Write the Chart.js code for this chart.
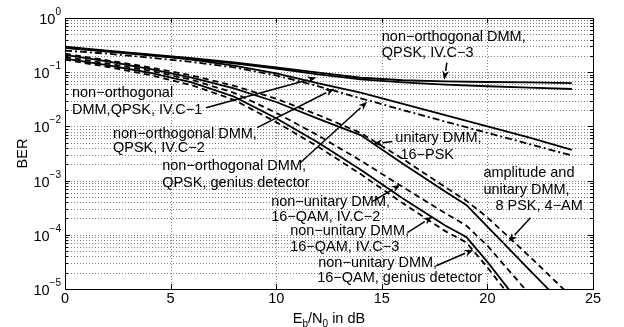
<!DOCTYPE html>
<html>
<head>
<meta charset="utf-8">
<script src="https://cdn.jsdelivr.net/npm/chart.js@4.4.1/dist/chart.umd.min.js"></script>
<style>
html,body{margin:0;padding:0;background:#fff;}
#wrap{width:624px;height:327px;position:relative;}
</style>
</head>
<body>
<div id="wrap"><canvas id="c" width="624" height="327"></canvas></div>
<script>
// ---- data ----
const snrA = [0,2,4,6,8,10,12,14,16,18,20,22,24];
const snrB = [0,2,4,6,8,10,12,14,16,18,19,20,22,24];

const berQpskC3     = [0.295,0.25,0.214,0.182,0.151,0.123,0.098,0.079,0.071,0.068,0.066,0.065,0.063];
const berQpskC1     = [0.28,0.24,0.204,0.174,0.145,0.117,0.091,0.074,0.065,0.059,0.055,0.052,0.049];
const berQpskC2     = [0.28,0.245,0.209,0.17,0.132,0.095,0.062,0.042,0.026,0.0162,0.01,0.0062,0.0037];
const berQpskGenius = [0.25,0.22,0.186,0.155,0.123,0.087,0.055,0.033,0.02,0.0123,0.0076,0.0047,0.0029];

const berPsk16      = [0.209,0.158,0.115,0.0794,0.0501,0.0282,0.0138,0.00692,0.00204,6.3e-4,3.55e-4,1.41e-4,2.24e-5,3.55e-6];
const berApsk       = [0.219,0.166,0.123,0.0871,0.0562,0.0324,0.0162,0.00759,0.00251,7.59e-4,4.27e-4,2.09e-4,3.98e-5,7.08e-6];
const berQamC2      = [0.191,0.145,0.107,0.0724,0.0417,0.0178,0.00676,0.00234,7.59e-4,2.51e-4,1.48e-4,6.31e-5,7.94e-6,1e-6];
const berQamC3      = [0.178,0.135,0.0977,0.0646,0.0355,0.0141,0.00501,0.00158,4.68e-4,1.48e-4,9.12e-5,3.16e-5,3.16e-6,3.16e-7];
const berQamGenius  = [0.17,0.126,0.0891,0.0575,0.0309,0.012,0.00417,0.00132,3.8e-4,1.17e-4,7.24e-5,2.51e-5,2.51e-6,2.51e-7];

const xTicks = [0,5,10,15,20,25];
const yExponents = [0,-1,-2,-3,-4,-5];

// annotations: text lines and arrows given in data coordinates
const annotations = [
  {lines:[["non\u2212orthogonal DMM,",15.0,-0.345],["QPSK, IV.C\u22123",15.0,-0.65]], arrow:[[18.08,-0.825],[17.96,-1.138]]},
  {lines:[["non\u2212orthogonal",0.33,-1.378],["DMM,QPSK, IV.C\u22121",0.33,-1.692]], arrow:[[6.68,-1.656],[11.9,-1.10]]},
  {lines:[["non\u2212orthogonal DMM,",2.27,-2.135],["QPSK, IV.C\u22122",2.27,-2.393]], arrow:[[9.1,-2.024],[12.75,-1.304]]},
  {lines:[["non\u2212orthogonal DMM,",4.6,-2.725],["QPSK, genius detector",4.6,-3.039]], arrow:[[11.14,-2.67],[14.31,-1.544]]},
  {lines:[["unitary DMM,",15.64,-2.208],["16\u2212PSK",15.88,-2.522]], arrow:[[15.5,-2.28],[14.6,-2.32]]},
  {lines:[["non\u2212unitary DMM,",9.76,-3.389],["16\u2212QAM, IV.C\u22122",9.76,-3.666]], arrow:[[14.55,-3.389],[15.88,-3.076]]},
  {lines:[["non\u2212unitary DMM,",10.66,-3.924],["16\u2212QAM, IV.C\u22123",10.66,-4.22]], arrow:[[16.21,-3.96],[17.39,-3.666]]},
  {lines:[["non\u2212unitary DMM,",11.99,-4.515],["16\u2212QAM, genius detector",11.94,-4.79]], arrow:[[17.58,-4.57],[19.34,-4.275]]},
  {lines:[["amplitude and",19.81,-2.854],["unitary DMM,",19.81,-3.168],["8 PSK, 4\u2212AM",20.38,-3.463]], arrow:[[22.04,-3.685],[21.0,-4.128]]}
];

const FONT = '"Liberation Sans", Arial, Helvetica, sans-serif';
const DASH = [6,4];
const DASHDOT = [7,3,2,3];

function series(xs, ys, dash){
  return {
    data: xs.map((x,i)=>({x:x, y:ys[i]})),
    borderColor:'#000', backgroundColor:'#000', borderWidth:1.8,
    borderDash: dash || [], pointRadius:0, tension:0, fill:false
  };
}

const datasets = [
  series(snrA, berQpskC3),
  series(snrA, berQpskC1),
  series(snrA, berQpskC2),
  series(snrA, berQpskGenius, DASHDOT),
  series(snrB, berPsk16),
  series(snrB, berApsk, DASH),
  series(snrB, berQamC2, DASH),
  series(snrB, berQamC3),
  series(snrB, berQamGenius, DASH)
];

const matlabAxes = {
  id:'matlabAxes',
  beforeDatasetsDraw(chart){
    const {ctx, chartArea:a, scales:{x, y}} = chart;
    ctx.save();
    ctx.strokeStyle = 'rgba(0,0,0,0.5)';
    ctx.lineWidth = 1;
    ctx.setLineDash([1,2]);
    // vertical grid
    xTicks.forEach(t=>{
      if (t<=0 || t>=25) return;
      const px = Math.round(x.getPixelForValue(t))+0.5;
      ctx.beginPath(); ctx.moveTo(px,a.top); ctx.lineTo(px,a.bottom); ctx.stroke();
    });
    // horizontal grid (major + minor)
    for (let e=-5; e<0; e++){
      for (let k=1; k<=9; k++){
        const v = k*Math.pow(10,e);
        if (e===-5 && k===1) continue;
        const py = Math.round(y.getPixelForValue(v))+0.5;
        ctx.beginPath(); ctx.moveTo(a.left,py); ctx.lineTo(a.right,py); ctx.stroke();
      }
    }
    ctx.restore();
  },
  afterDatasetsDraw(chart){
    const {ctx, chartArea:a, scales:{x, y}} = chart;
    ctx.save();
    ctx.setLineDash([]);
    ctx.strokeStyle = '#000';
    ctx.lineWidth = 1;
    // box
    ctx.strokeRect(Math.round(a.left)+0.5, Math.round(a.top)+0.5, Math.round(a.right-a.left), Math.round(a.bottom-a.top));
    // x ticks
    xTicks.forEach(t=>{
      const px = Math.round(x.getPixelForValue(t))+0.5;
      ctx.beginPath();
      ctx.moveTo(px,a.bottom); ctx.lineTo(px,a.bottom-5);
      ctx.moveTo(px,a.top); ctx.lineTo(px,a.top+5);
      ctx.stroke();
    });
    // y ticks
    for (let e=-5; e<=0; e++){
      for (let k=1; k<=9; k++){
        const v = k*Math.pow(10,e);
        if (v>1.0001) continue;
        const py = Math.round(y.getPixelForValue(v))+0.5;
        const len = k===1 ? 5 : 3;
        ctx.beginPath();
        ctx.moveTo(a.left,py); ctx.lineTo(a.left+len,py);
        ctx.moveTo(a.right,py); ctx.lineTo(a.right-len,py);
        ctx.stroke();
      }
    }
    // tick labels
    ctx.fillStyle = '#000';
    ctx.textAlign = 'center';
    ctx.textBaseline = 'middle';
    ctx.font = '14.5px ' + FONT;
    xTicks.forEach(t=>{
      ctx.fillText(String(t), x.getPixelForValue(t), a.bottom + 10);
    });
    yExponents.forEach(e=>{
      const py = y.getPixelForValue(Math.pow(10,e));
      const expStr = e===0 ? '0' : '\u2212' + String(-e);
      ctx.font = '10px ' + FONT;
      const ew = ctx.measureText(expStr).width;
      const right = a.left - 4;
      ctx.textAlign = 'left';
      ctx.textBaseline = 'alphabetic';
      ctx.fillText(expStr, right - ew, py - 3);
      ctx.font = '14.5px ' + FONT;
      ctx.textAlign = 'right';
      ctx.textBaseline = 'middle';
      ctx.fillText('10', right - ew, py + 2);
    });
    // x title with subscripts
    const parts = [['E',14.5,0],['b',10,4],['/N',14.5,0],['0',10,4],[' in dB',14.5,0]];
    let total = 0;
    parts.forEach(p=>{ ctx.font = p[1]+'px '+FONT; total += ctx.measureText(p[0]).width; });
    let cx = (a.left + a.right)/2 - total/2;
    const base = a.bottom + 34;
    ctx.textAlign = 'left';
    ctx.textBaseline = 'alphabetic';
    parts.forEach(p=>{
      ctx.font = p[1]+'px '+FONT;
      ctx.fillText(p[0], cx, base + p[2]);
      cx += ctx.measureText(p[0]).width;
    });
    // y title
    ctx.save();
    ctx.translate(23, (a.top + a.bottom)/2);
    ctx.rotate(-Math.PI/2);
    ctx.textAlign = 'center';
    ctx.textBaseline = 'middle';
    ctx.font = '14.5px ' + FONT;
    ctx.fillText('BER', 0, 0);
    ctx.restore();

    // annotations
    ctx.font = '14.5px ' + FONT;
    ctx.textAlign = 'left';
    ctx.textBaseline = 'middle';
    annotations.forEach(an=>{
      an.lines.forEach(l=>{
        ctx.fillText(l[0], x.getPixelForValue(l[1]), y.getPixelForValue(Math.pow(10,l[2])));
      });
      const x0 = x.getPixelForValue(an.arrow[0][0]), y0 = y.getPixelForValue(Math.pow(10,an.arrow[0][1]));
      const x1 = x.getPixelForValue(an.arrow[1][0]), y1 = y.getPixelForValue(Math.pow(10,an.arrow[1][1]));
      const ang = Math.atan2(y1-y0, x1-x0);
      const hl = 9, hw = 3.5;
      const bx = x1 - hl*Math.cos(ang), by = y1 - hl*Math.sin(ang);
      ctx.lineWidth = 1.5;
      ctx.beginPath(); ctx.moveTo(x0,y0); ctx.lineTo(bx,by); ctx.stroke();
      ctx.beginPath();
      ctx.moveTo(x1,y1);
      ctx.lineTo(bx + hw*Math.sin(ang), by - hw*Math.cos(ang));
      ctx.lineTo(x1 - 0.7*hl*Math.cos(ang), y1 - 0.7*hl*Math.sin(ang));
      ctx.lineTo(bx - hw*Math.sin(ang), by + hw*Math.cos(ang));
      ctx.closePath();
      ctx.fill();
    });
    ctx.restore();
  }
};

new Chart(document.getElementById('c'), {
  type:'line',
  data:{datasets},
  options:{
    responsive:false,
    animation:false,
    devicePixelRatio:1,
    layout:{padding:{left:65,right:31,top:18,bottom:38}},
    plugins:{legend:{display:false}, tooltip:{enabled:false}},
    scales:{
      x:{type:'linear', min:0, max:25, grid:{display:false}, border:{display:false}, ticks:{display:false},
         afterFit:(s)=>{s.height=0;}},
      y:{type:'logarithmic', min:1e-5, max:1, grid:{display:false}, border:{display:false}, ticks:{display:false},
         afterFit:(s)=>{s.width=0;}}
    }
  },
  plugins:[matlabAxes]
});
</script>
</body>
</html>
